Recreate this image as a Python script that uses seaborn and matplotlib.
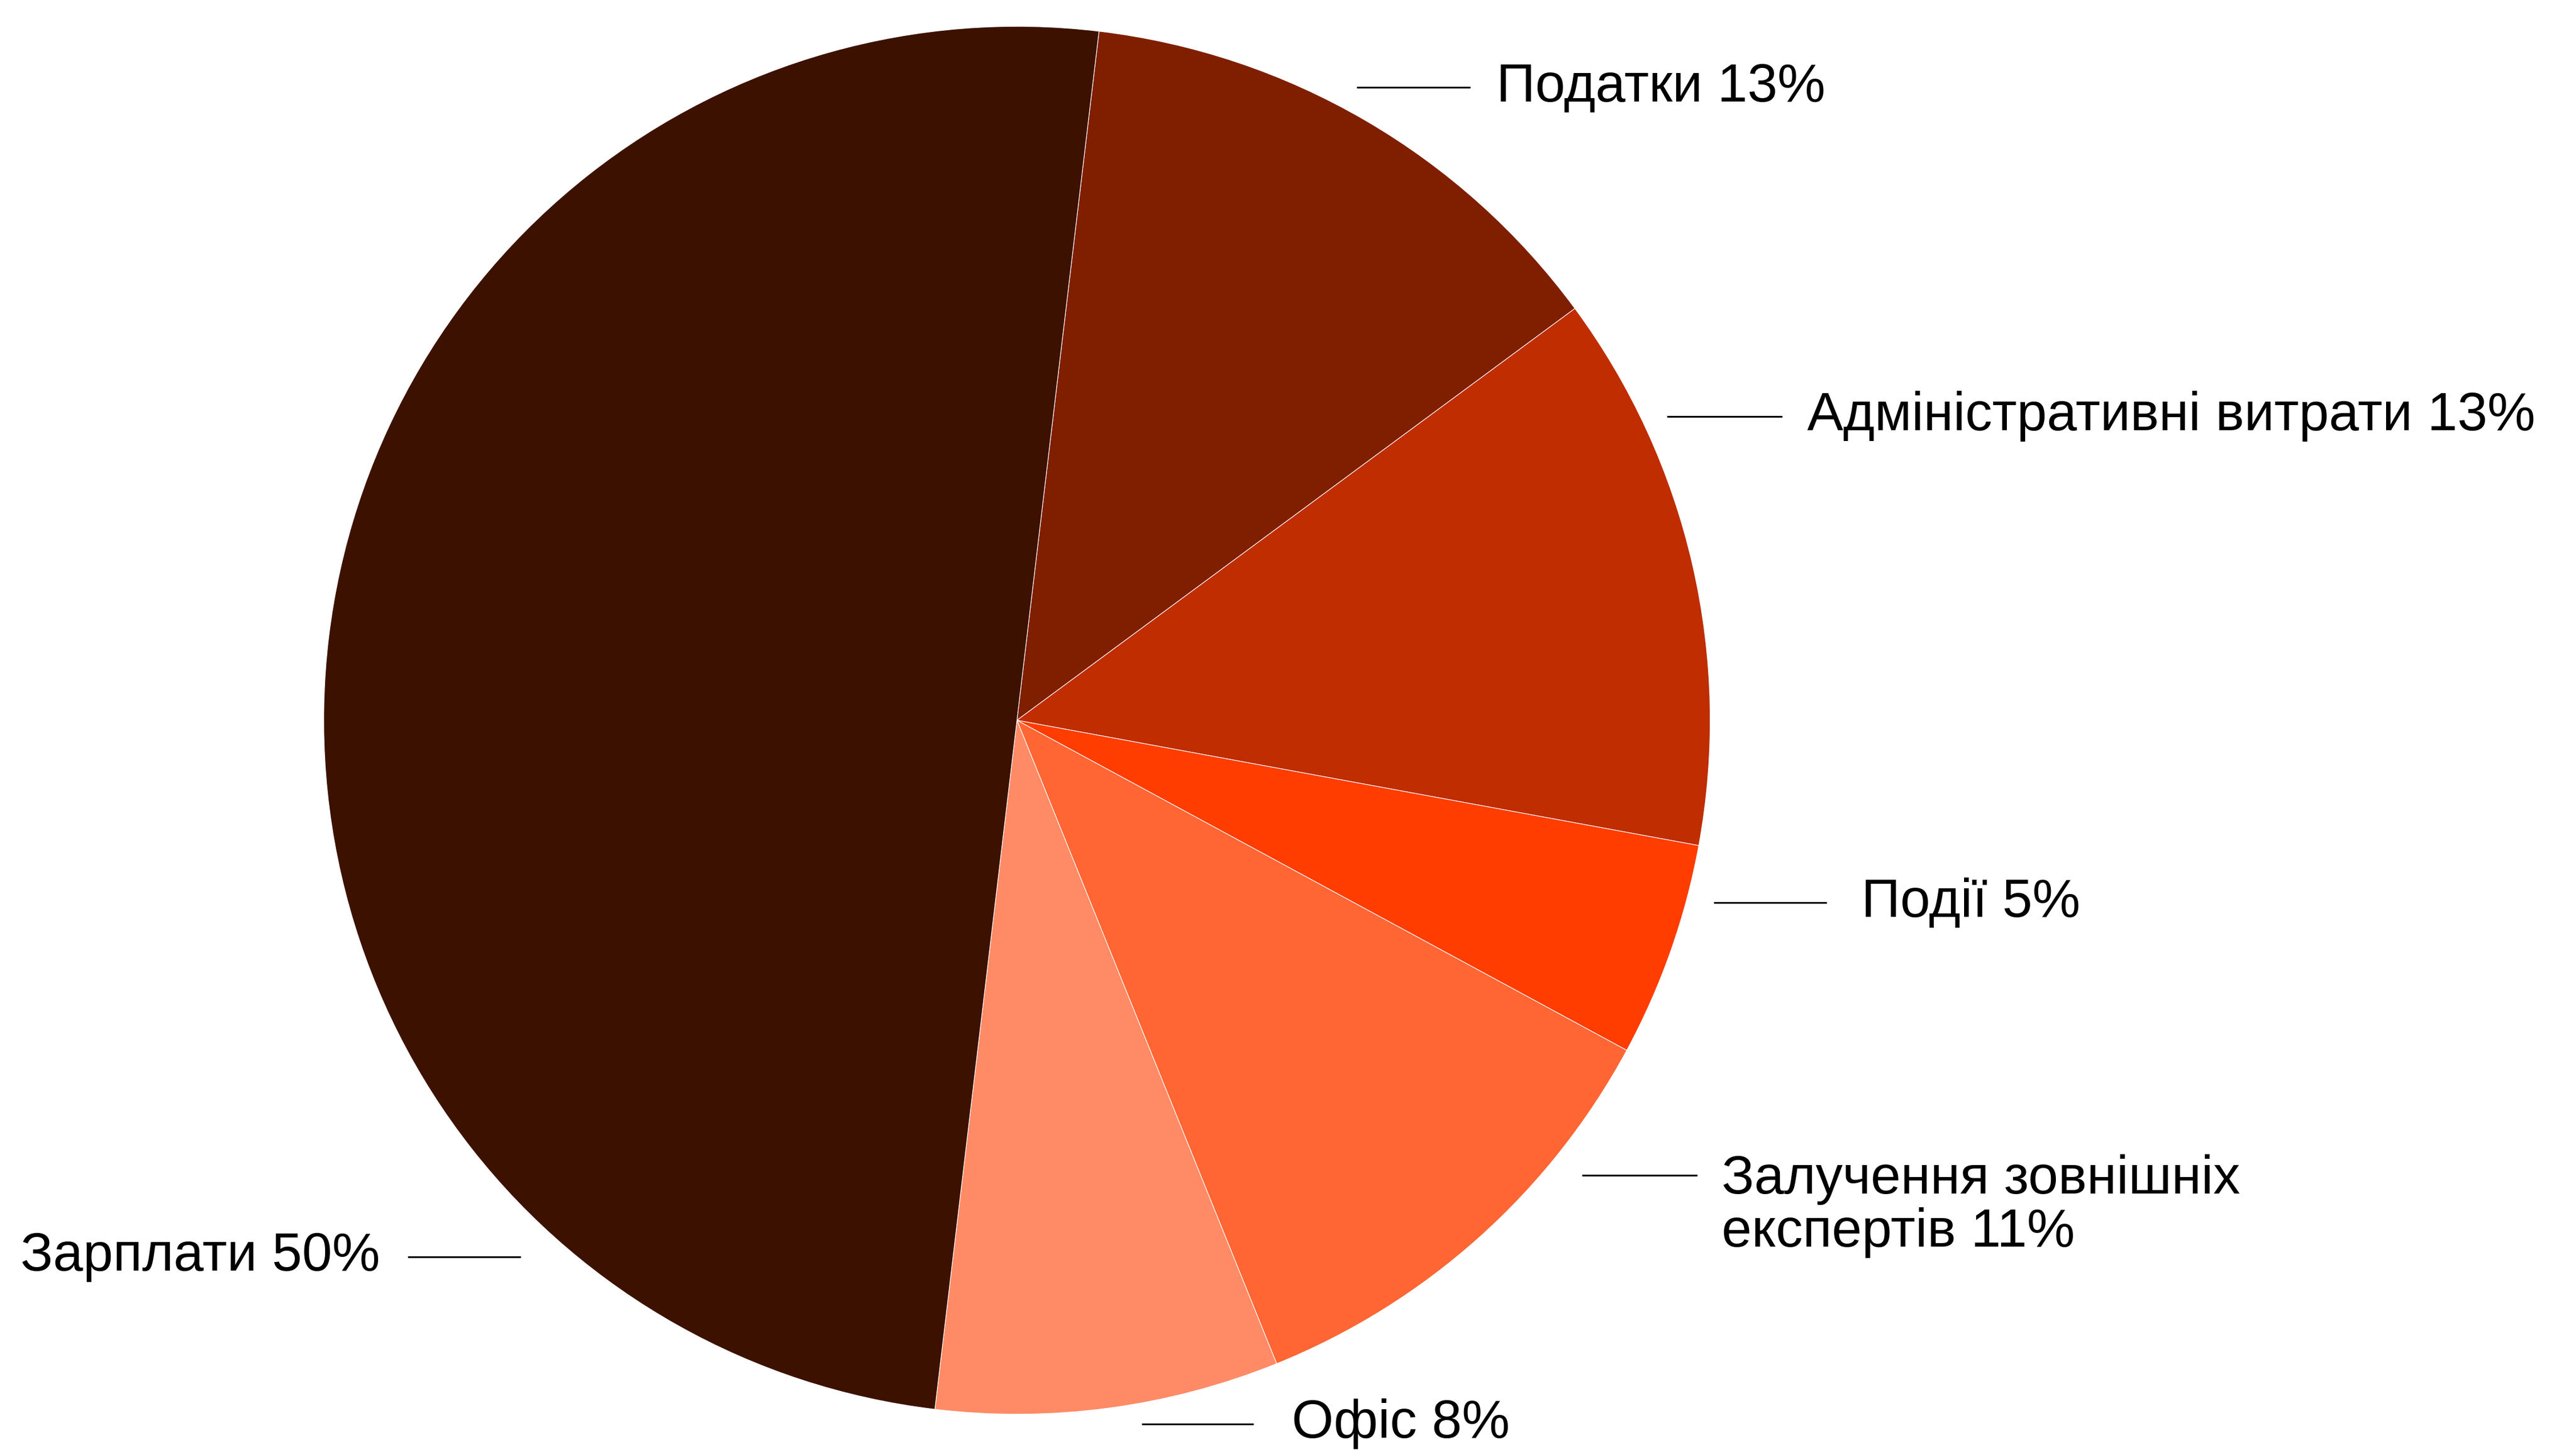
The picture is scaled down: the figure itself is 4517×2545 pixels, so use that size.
import matplotlib
matplotlib.use("Agg")
import matplotlib.pyplot as plt
import seaborn as sns

# data (clockwise from the top)
categories = ["Податки", "Адміністративні витрати", "Події",
              "Залучення зовнішніх\nекспертів", "Офіс", "Зарплати"]
shares = [13, 13, 5, 11, 8, 50]
colors = ["#7F1F00", "#BF2D00", "#FF3D00", "#FF6633", "#FF8B66", "#3D1100"]

# label layout in pie-radius units: line start, line end, line y, text x, text y, ha
label_pos = [
    (0.490, 0.654, 0.912, 0.692, 0.912, "left"),
    (0.938, 1.104, 0.438, 1.140, 0.438, "left"),
    (1.005, 1.168, -0.263, 1.218, -0.263, "left"),
    (0.815, 0.981, -0.656, 1.017, -0.700, "left"),
    (0.180, 0.341, -1.014, 0.396, -1.014, "left"),
    (-0.716, -0.879, -0.773, -0.919, -0.773, "right"),
]

sns.set_theme(style="white")
plt.rcParams["font.family"] = ["Liberation Sans", "DejaVu Sans"]

fig = plt.figure(figsize=(45.17, 25.45), dpi=100)
ax = fig.add_axes([0, 0, 1, 1])

ax.pie(shares, colors=colors, startangle=83.2, counterclock=False,
       wedgeprops=dict(edgecolor="white", linewidth=0.8))

for cat, val, (x0, x1, ly, tx, ty, ha) in zip(categories, shares, label_pos):
    ax.plot([x0, x1], [ly, ly], color="black", lw=2.2, solid_capstyle="butt")
    ax.text(tx, ty, f"{cat} {val}%", ha=ha, va="center", fontsize=68,
            color="black", linespacing=1.05)

ax.set_xlim(-1.467, 2.249)
ax.set_ylim(-1.0545, 1.038)
ax.set_aspect("auto")
ax.axis("off")

fig.savefig("out.png", dpi=100, facecolor="white")
